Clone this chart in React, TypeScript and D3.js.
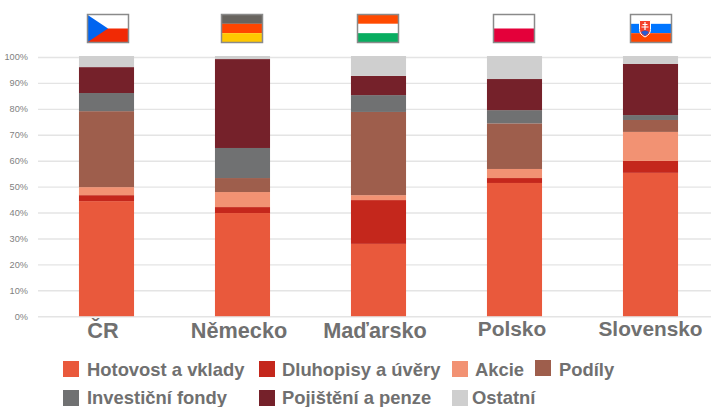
import React, { useRef, useEffect } from "react";
import * as d3 from "d3";

const countries = ["ČR", "Německo", "Maďarsko", "Polsko", "Slovensko"];
const seriesNames = [
  "Hotovost a vklady",
  "Dluhopisy a úvěry",
  "Akcie",
  "Podíly",
  "Investiční fondy",
  "Pojištění a penze",
  "Ostatní",
];
const seriesColors = ["#e9593c", "#c4271c", "#f29273", "#9e5e4c", "#707172", "#75212a", "#cfcfcf"];

// shares in % per country
const hotovost = [44.4, 39.8, 27.9, 51.4, 55.3];
const dluhopisy = [2.3, 2.3, 16.9, 1.9, 4.6];
const akcie = [3.1, 5.8, 1.9, 3.5, 11.2];
const podily = [29.3, 5.4, 32.1, 17.6, 4.6];
const fondy = [7.0, 11.6, 6.5, 5.1, 1.9];
const pojisteni = [10.0, 34.3, 7.4, 12.0, 19.7];
const ostatni = [3.9, 0.8, 7.3, 8.5, 2.7];
const seriesValues = [hotovost, dluhopisy, akcie, podily, fondy, pojisteni, ostatni];

const tickValues = [0, 10, 20, 30, 40, 50, 60, 70, 80, 90, 100];

// hand placed labels, in the original they are not quite centred or the same size
const labelDx = [-3.5, -3.5, -3.5, -2.5, 0];
const labelY = [338, 338, 338, 336, 336];
const labelSize = [21.7, 21.7, 21.7, 20.9, 20.8];

const legendPos = [
  { x: 63, y: 361, tx: 87, ty: 375.5 },
  { x: 259, y: 361, tx: 282, ty: 375.5 },
  { x: 452, y: 361, tx: 475, ty: 375.5 },
  { x: 535, y: 360, tx: 559, ty: 375.5 },
  { x: 63, y: 390, tx: 87, ty: 403.5 },
  { x: 259, y: 390, tx: 282, ty: 403.5 },
  { x: 452, y: 390, tx: 472, ty: 403.5 },
];

const width = 711;
const height = 407;
const font = "'Liberation Sans', Arial, sans-serif";

const Flag = ({ x, children }: { x: number; children: React.ReactNode }) => (
  <g transform={`translate(${x},14)`}>
    {children}
    <rect x={0.5} y={0.5} width={41} height={28} fill="none" stroke="#8a8a8a" strokeWidth={1.5} />
  </g>
);

const Stripes = ({ colors }: { colors: string[] }) => (
  <>
    {colors.map((c, i) => (
      <rect key={i} x={0} y={(i * 28) / colors.length + 0.5} width={41} height={28 / colors.length} fill={c} />
    ))}
  </>
);

export default function App() {
  const axisRef = useRef<SVGGElement | null>(null);

  const x = d3.scaleBand<string>().domain(countries).range([38.5, 718.5]).paddingInner(0.595).paddingOuter(0.2975);
  const y = d3.scaleLinear().domain([0, 100]).range([316.2, 57]);

  const rows = countries.map((c, i) => {
    const row: Record<string, number | string> = { country: c };
    seriesNames.forEach((s, j) => (row[s] = seriesValues[j][i]));
    return row;
  });
  const stacked = d3.stack<any>().keys(seriesNames)(rows);

  useEffect(() => {
    if (!axisRef.current) return;
    const g = d3.select(axisRef.current);
    g.selectAll("*").remove();
    g.call(
      d3
        .axisLeft(y)
        .tickValues(tickValues)
        .tickSize(-(width - 38))
        .tickPadding(10)
        .tickFormat((d) => `${d}%`)
    );
    g.select(".domain").remove();
    g.selectAll(".tick line").attr("stroke", "#e4e4e4").attr("stroke-width", 1.4);
    g.selectAll(".tick text")
      .attr("fill", "#7f7f7f")
      .style("font-family", font)
      .style("font-size", "9.2px");
  }, []);

  return (
    <svg
      width={width}
      height={height}
      style={{ position: "absolute", left: 0, top: 0, background: "#fff" }}
    >
      <g ref={axisRef} transform="translate(38,0)" />

      {stacked.map((layer, j) => (
        <g key={layer.key} fill={seriesColors[j]}>
          {layer.map((d, i) => (
            <rect
              key={i}
              x={x(countries[i])}
              y={y(d[1]) - (j === 6 ? 1 : 0)}
              width={x.bandwidth()}
              height={y(d[0]) - y(d[1]) + (j === 6 ? 1 : 0)}
            />
          ))}
        </g>
      ))}

      {countries.map((c, i) => (
        <text
          key={c}
          x={x(c)! + x.bandwidth() / 2 + labelDx[i]}
          y={labelY[i]}
          textAnchor="middle"
          fontFamily={font}
          fontWeight="bold"
          fontSize={labelSize[i]}
          fill="#707070"
        >
          {c}
        </text>
      ))}

      {seriesNames.map((s, j) => (
        <g key={s}>
          <rect x={legendPos[j].x} y={legendPos[j].y} width={16} height={16} fill={seriesColors[j]} />
          <text
            x={legendPos[j].tx}
            y={legendPos[j].ty}
            fontFamily={font}
            fontWeight="bold"
            fontSize={18.4}
            fill="#707070"
          >
            {s}
          </text>
        </g>
      ))}

      <Flag x={87}>
        <rect x={0} y={0.5} width={41} height={14} fill="#fff" />
        <rect x={0} y={14.5} width={41} height={14} fill="#f12a05" />
        <path d="M0,0.5L21,14.5L0,28.5Z" fill="#0064f0" />
      </Flag>
      <Flag x={221}>
        <Stripes colors={["#68645f", "#ff4500", "#ffc800"]} />
      </Flag>
      <Flag x={357}>
        <Stripes colors={["#ff4a00", "#fff", "#08ad60"]} />
      </Flag>
      <Flag x={493}>
        <Stripes colors={["#fff", "#e4003a"]} />
      </Flag>
      <Flag x={630}>
        <Stripes colors={["#fff", "#0075ff", "#ff4500"]} />
        <path d="M9.5,6.5h11v9q0,5 -5.5,7.5q-5.5,-2.5 -5.5,-7.5Z" fill="#f4412a" stroke="#fff" strokeWidth={1} />
        <path d="M15,8v8M12.5,10.5h5M11.5,13h7" stroke="#fff" strokeWidth={1.2} />
        <path d="M11,18q4,-3 8,0q-1.5,2.5 -4,4q-2.5,-1.5 -4,-4Z" fill="#2a5bd0" />
      </Flag>
    </svg>
  );
}
